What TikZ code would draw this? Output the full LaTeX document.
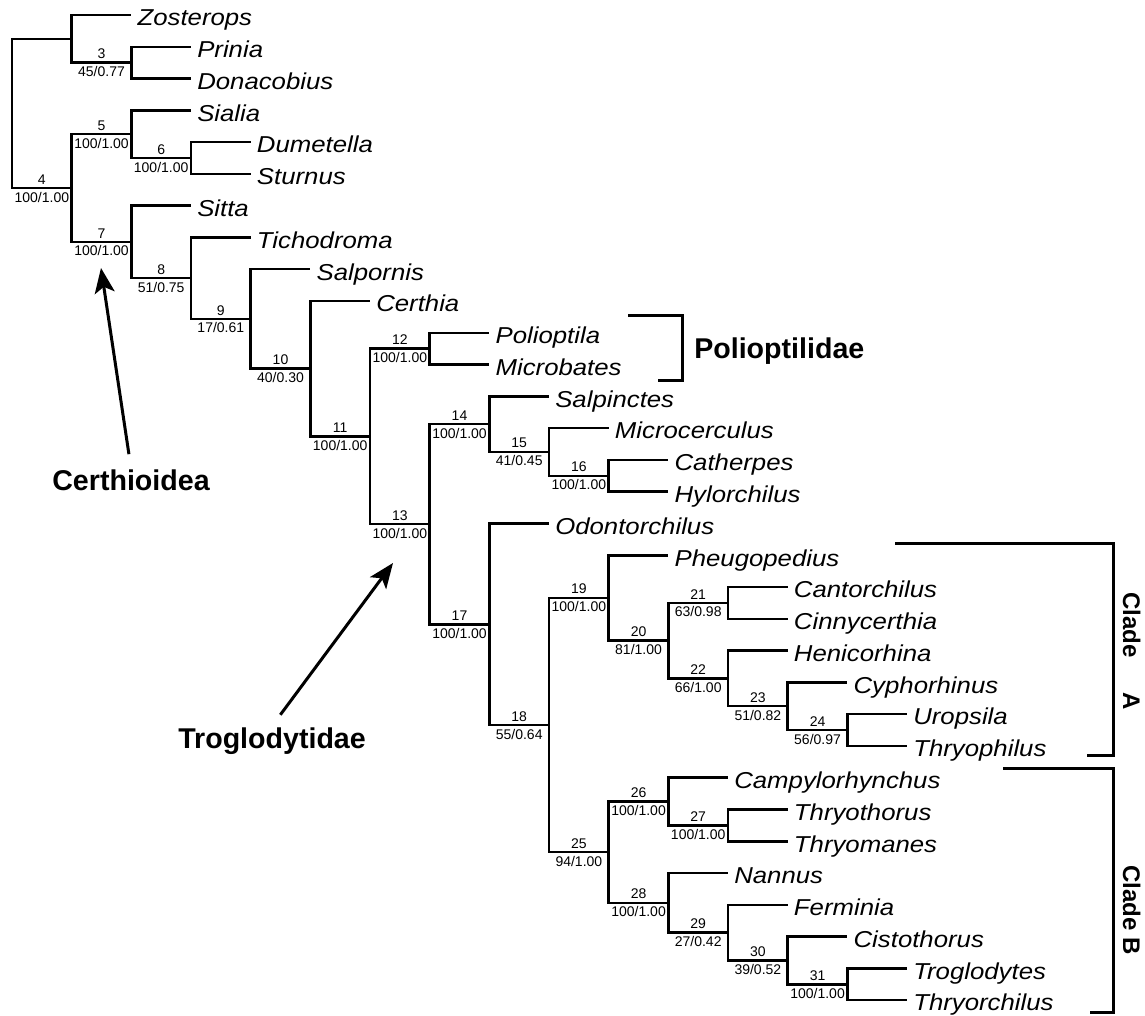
\documentclass[tikz,border=0pt]{standalone}
\usepackage{fontspec}
\setmainfont{Liberation Sans}
\newfontfamily\taxonfont{Liberation Sans}[FakeStretch=1.12]
\usetikzlibrary{arrows.meta}

\begin{document}
\begin{tikzpicture}[x=0.5pt,y=-0.5pt,>={Stealth[length=12.5pt,width=10pt,inset=3pt]},
		line width=1.25pt,
		taxon/.style={anchor=base west,inner sep=0pt,xshift=2.5pt,yshift=-5.4pt,font=\taxonfont\itshape\fontsize{11.5}{13}\selectfont},
		nodenum/.style={anchor=south,inner sep=1.3pt,font=\fontsize{7}{8}\selectfont},
		support/.style={anchor=north,inner sep=1.3pt,font=\fontsize{7}{8}\selectfont},
		familylabel/.style={inner sep=0pt,font=\bfseries\fontsize{14.3}{16}\selectfont},
		clade/.style={anchor=base,rotate=-90,inner sep=0pt,font=\bfseries\fontsize{12}{14}\selectfont},
		bracket/.style={line width=1.5pt},
		pointer/.style={->,line width=1.5pt,shorten <=7pt}]
		\useasboundingbox (0,0) rectangle (1145,1016);

		% tree: one x step per level, one y step per taxon
		\begin{scope}[shift={(12,15)},x=29.835pt,y=-15.89pt]
		\foreach \t/\k/\j in {Zosterops/2/0,Prinia/3/1,Donacobius/3/2,Sialia/3/3,
				Dumetella/4/4,Sturnus/4/5,Sitta/3/6,Tichodroma/4/7,Salpornis/5/8,
				Certhia/6/9,Polioptila/8/10,Microbates/8/11,Salpinctes/9/12,
				Microcerculus/10/13,Catherpes/11/14,Hylorchilus/11/15,
				Odontorchilus/9/16,Pheugopedius/11/17,Cantorchilus/13/18,
				Cinnycerthia/13/19,Henicorhina/13/20,Cyphorhinus/14/21,
				Uropsila/15/22,Thryophilus/15/23,Campylorhynchus/12/24,
				Thryothorus/13/25,Thryomanes/13/26,Nannus/12/27,Ferminia/13/28,
				Cistothorus/14/29,Troglodytes/15/30,Thryorchilus/15/31}
		{
			\coordinate (\t) at (\k,\j);
			\node[taxon] (lab-\t) at (\t) {\t};
		}

		\coordinate (root) at (0,3.098);
		\coordinate (U) at (1,0.75);
		\foreach \n/\k/\j/\s in {3/2/1.5/{45/0.77},4/1/5.4457/{100/1.00},
				5/2/3.75/{100/1.00},6/3/4.5/{100/1.00},7/2/7.1414/{100/1.00},
				8/3/8.2827/{51/0.75},9/4/9.5654/{17/0.61},10/5/11.1309/{40/0.30},
				11/6/13.2617/{100/1.00},12/7/10.5/{100/1.00},13/7/16.0234/{100/1.00},
				14/8/12.875/{100/1.00},15/9/13.75/{41/0.45},16/10/14.5/{100/1.00},
				17/8/19.1719/{100/1.00},18/9/22.3438/{55/0.64},19/10/18.3438/{100/1.00},
				20/11/19.6875/{81/1.00},21/12/18.5/{63/0.98},22/12/20.875/{66/1.00},
				23/13/21.75/{51/0.82},24/14/22.5/{56/0.97},25/10/26.3438/{94/1.00},
				26/11/24.75/{100/1.00},27/12/25.5/{100/1.00},28/11/27.9375/{100/1.00},
				29/12/28.875/{27/0.42},30/13/29.75/{39/0.52},31/14/30.5/{100/1.00}}
		{
			\coordinate (n\n) at (\k,\j);
			\node[nodenum] (num\n) at (\k-0.5,\j) {\n};
			\node[support] (sup\n) at (\k-0.5,\j) {\s};
		}

		\foreach \p/\c in {root/U,root/n4,U/Zosterops,U/n3,n3/Prinia,n3/Donacobius,
				n4/n5,n4/n7,n5/Sialia,n5/n6,n6/Dumetella,n6/Sturnus,n7/Sitta,n7/n8,
				n8/Tichodroma,n8/n9,n9/Salpornis,n9/n10,n10/Certhia,n10/n11,
				n11/n12,n11/n13,n12/Polioptila,n12/Microbates,n13/n14,n13/n17,
				n14/Salpinctes,n14/n15,n15/Microcerculus,n15/n16,n16/Catherpes,
				n16/Hylorchilus,n17/Odontorchilus,n17/n18,n18/n19,n18/n25,
				n19/Pheugopedius,n19/n20,n20/n21,n20/n22,n21/Cantorchilus,
				n21/Cinnycerthia,n22/Henicorhina,n22/n23,n23/Cyphorhinus,n23/n24,
				n24/Uropsila,n24/Thryophilus,n25/n26,n25/n28,n26/Campylorhynchus,
				n26/n27,n27/Thryothorus,n27/Thryomanes,n28/Nannus,n28/n29,
				n29/Ferminia,n29/n30,n30/Cistothorus,n30/n31,n31/Troglodytes,
				n31/Thryorchilus}
			\draw (\p) |- (\c);
		\end{scope}

		% group labels
		\coordinate (certtip) at (101,268);
		\node[familylabel,anchor=base] (certhioidea) at (131,490) {Certhioidea};
		\draw[pointer] (certhioidea.north) -- (certtip);
		\coordinate (trogtip) at (393,563);
		\node[familylabel,anchor=base] (troglodytidae) at (272,748) {Troglodytidae};
		\draw[pointer] (troglodytidae.north) -- (trogtip);

		\draw[bracket] (628,315) -- (682,315) -- (682,380) -- (658,380);
		\node[familylabel,anchor=base west] (polioptilidae) at (693,358) {Polioptilidae};
		\draw[bracket] (895,543) -- (1113,543) -- (1113,755) -- (1087,755);
		\node[clade] (cladeA) at (1123,651) {Clade\hspace{17.5pt}A};
		\draw[bracket] (1003,768) -- (1113,768) -- (1113,1012) -- (1090,1012);
		\node[clade] (cladeB) at (1123,910) {Clade B};
\end{tikzpicture}
\end{document}
